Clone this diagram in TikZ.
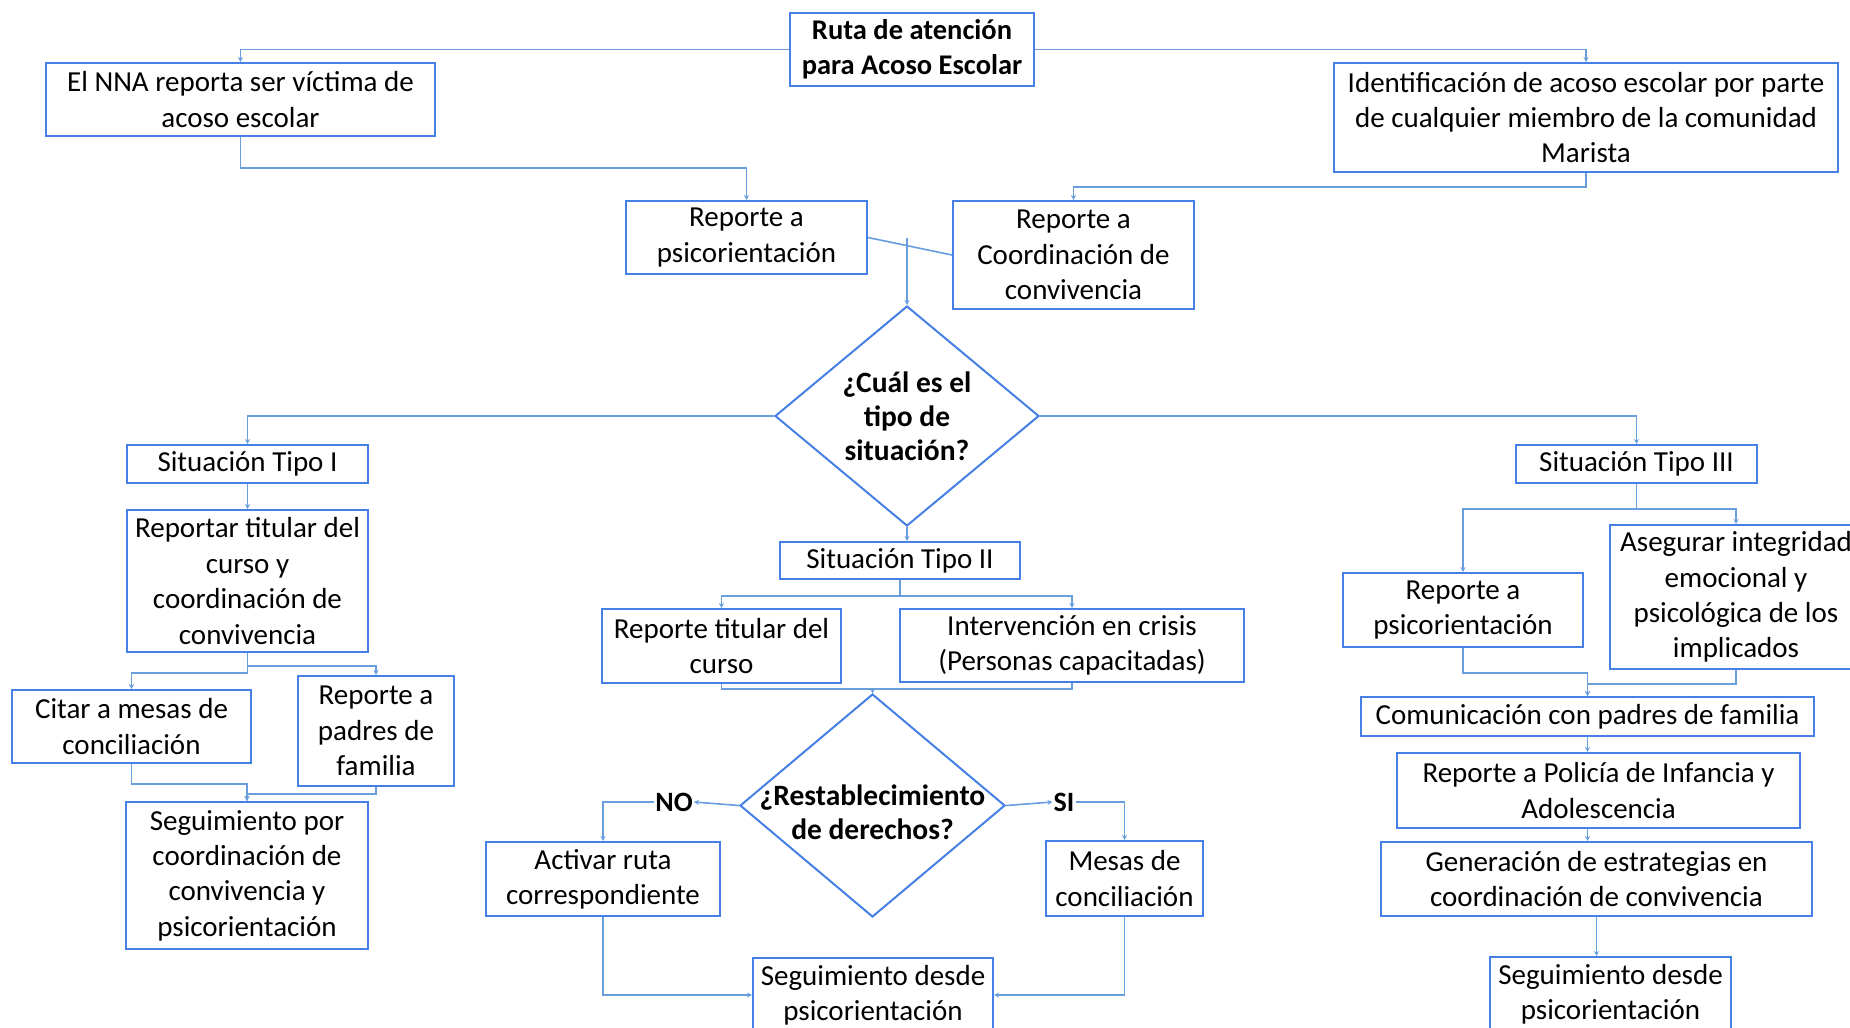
\documentclass[tikz,border=0pt]{standalone}
\usepackage{fontspec}
\setmainfont{Carlito}
\usetikzlibrary{shapes.geometric,arrows.meta,calc}
\definecolor{boxblue}{RGB}{70,128,230}
\definecolor{lineblue}{RGB}{105,158,222}
\begin{document}
\begin{tikzpicture}[x=1pt,y=-1pt,
  box/.style={draw=boxblue,line width=2pt,rectangle,align=center,inner sep=0pt,
    font=\fontsize{29}{35.4}\selectfont},
  wbox/.style={box},
  dia/.style={draw=boxblue,line width=2pt,diamond,inner sep=0pt},
  dtext/.style={align=center,font=\fontsize{29.5}{34}\selectfont\bfseries},
  lab/.style={font=\fontsize{28}{30}\selectfont\bfseries,inner sep=1pt},
  conn/.style={draw=lineblue,line width=1.6pt,-{Stealth[length=5pt,width=5pt]}},
  ln/.style={draw=lineblue,line width=1.6pt}]
\useasboundingbox (0,0) rectangle (1850,1028);
\fill[white] (0,0) rectangle (1850,1028);
\clip (0,0) rectangle (1850,1028);
% nodes
\node[box,minimum width=244pt,minimum height=73pt,font=\fontsize{28.5}{35.4}\selectfont\bfseries] (title) at (912,49.5) {Ruta de atención\\para Acoso Escolar};
\node[box,minimum width=389pt,minimum height=73pt] (nna) at (240.5,99.5) {El NNA reporta ser víctima de\\acoso escolar};
\node[box,minimum width=504pt,minimum height=109pt] (ident) at (1586,117.5) {Identificación de acoso escolar por parte\\de cualquier miembro de la comunidad\\Marista};
\node[box,minimum width=241pt,minimum height=73pt] (rp1) at (746.5,237.5) {Reporte a\\psicorientación};
\node[box,minimum width=241pt,minimum height=108pt] (rc1) at (1073.5,255) {Reporte a\\Coordinación de\\convivencia};
\node[dia,minimum width=264pt,minimum height=220pt] (d1) at (907,416) {};
\node[dtext] at (d1) {¿Cuál es el\\tipo de\\situación?};
% Tipo I
\node[box,minimum width=241pt,minimum height=38pt] (t1) at (247.5,464) {Situación Tipo I};
\node[box,minimum width=241pt,minimum height=142pt] (rt1) at (247.5,581) {Reportar titular del\\curso y\\coordinación de\\convivencia};
\node[box,minimum width=239pt,minimum height=73pt] (cit) at (131.5,726.5) {Citar a mesas de\\conciliación};
\node[box,minimum width=156pt,minimum height=110pt] (pad) at (376,731) {Reporte a\\padres de\\familia};
\node[box,minimum width=242pt,minimum height=147pt] (seg1) at (247,875.5) {Seguimiento por\\coordinación de\\convivencia y\\psicorientación};
% Tipo II
\node[box,minimum width=240pt,minimum height=37pt] (t2) at (900,560.5) {Situación Tipo II};
\node[box,minimum width=239pt,minimum height=74pt] (rtc) at (721.5,646) {Reporte titular del\\curso};
\node[box,minimum width=344pt,minimum height=73pt] (int) at (1072,645.5) {Intervención en crisis\\(Personas capacitadas)};
\node[dia,minimum width=265pt,minimum height=223pt] (d2) at (872.5,805.5) {};
\node[dtext,yshift=-7pt] at (d2) {¿Restablecimiento\\de derechos?};
\node[lab] (no) at (674,802) {NO};
\node[lab] (si) at (1064,802) {SI};
\node[box,minimum width=234pt,minimum height=74pt] (act) at (603,879) {Activar ruta\\correspondiente};
\node[box,minimum width=157pt,minimum height=75pt] (mes) at (1124.5,878.5) {Mesas de\\conciliación};
\node[box,minimum width=240pt,minimum height=74pt] (seg2) at (873,995) {Seguimiento desde\\psicorientación};
% Tipo III
\node[wbox,minimum width=241pt,minimum height=38pt] (t3) at (1636.5,464) {Situación Tipo III};
\node[wbox,minimum width=240pt,minimum height=74pt] (rp3) at (1463,610) {Reporte a\\psicorientación};
\node[wbox,minimum width=252pt,minimum height=144pt] (ase) at (1736,597) {Asegurar integridad\\emocional y\\psicológica de los\\implicados};
\node[wbox,minimum width=453pt,minimum height=39pt] (com) at (1587.5,716.5) {Comunicación con padres de familia};
\node[wbox,minimum width=403pt,minimum height=75pt] (pol) at (1598.5,790.5) {Reporte a Policía de Infancia y\\Adolescencia};
\node[wbox,minimum width=431pt,minimum height=74pt] (gen) at (1596.5,879) {Generación de estrategias en\\coordinación de convivencia};
\node[wbox,minimum width=241pt,minimum height=74pt] (seg3) at (1610.5,994) {Seguimiento desde\\psicorientación};
% connectors
\draw[conn] (title.west) -| (nna.north);
\draw[conn] (title.east) -| (ident.north);
\draw[conn] (nna.south) -- ++(0,31) -| (rp1.north);
\draw[conn] (ident.south) -- ++(0,14) -| (rc1.north);
\draw[ln] (rp1.east) -- (rc1.west);
\draw[conn] (d1.north |- rp1.east) -- (d1.north);
\draw[conn] (d1.west) -| (t1.north);
\draw[conn] (d1.east) -| (t3.north);
\draw[conn] (d1.south) -- (d1.south |- t2.north);
\draw[conn] (t1.south) -- (rt1.north);
\draw[conn] (rt1.south) -- ++(0,20) -| (cit.north);
\draw[conn] (rt1.south) -- ++(0,13) -| (pad.north);
\draw[conn] (cit.south) -- ++(0,20) -| (seg1.north);
\draw[conn] (pad.south) -- ++(0,7) -| (seg1.north);
\draw[conn] (t2.south) -- ++(0,16) -| (rtc.north);
\draw[conn] (t2.south) -- ++(0,16) -| (int.north);
\draw[conn] (rtc.south) -- ++(0,5) -| (d2.north);
\draw[conn] (int.south) -- ++(0,6) -| (d2.north);
\draw[conn] (d2.west) -- (no.east);
\draw[conn] (no.west) -| (act.north);
\draw[conn] (d2.east) -- (si.west);
\draw[conn] (si.east) -| (mes.north);
\draw[conn] (act.south) |- (seg2.west);
\draw[conn] (mes.south) |- (seg2.east);
\draw[conn] (t3.south) -- ++(0,25) -| (rp3.north);
\draw[conn] (t3.south) -- ++(0,25) -| (ase.north);
\draw[conn] (rp3.south) -- ++(0,25) -| (com.north);
\draw[conn] (ase.south) -- ++(0,14) -| (com.north);
\draw[conn] (com.south) -- (com.south |- pol.north);
\draw[conn] (com.south |- pol.south) -- (com.south |- gen.north);
\draw[conn] (gen.south) -- (gen.south |- seg3.north);
\end{tikzpicture}
\end{document}
